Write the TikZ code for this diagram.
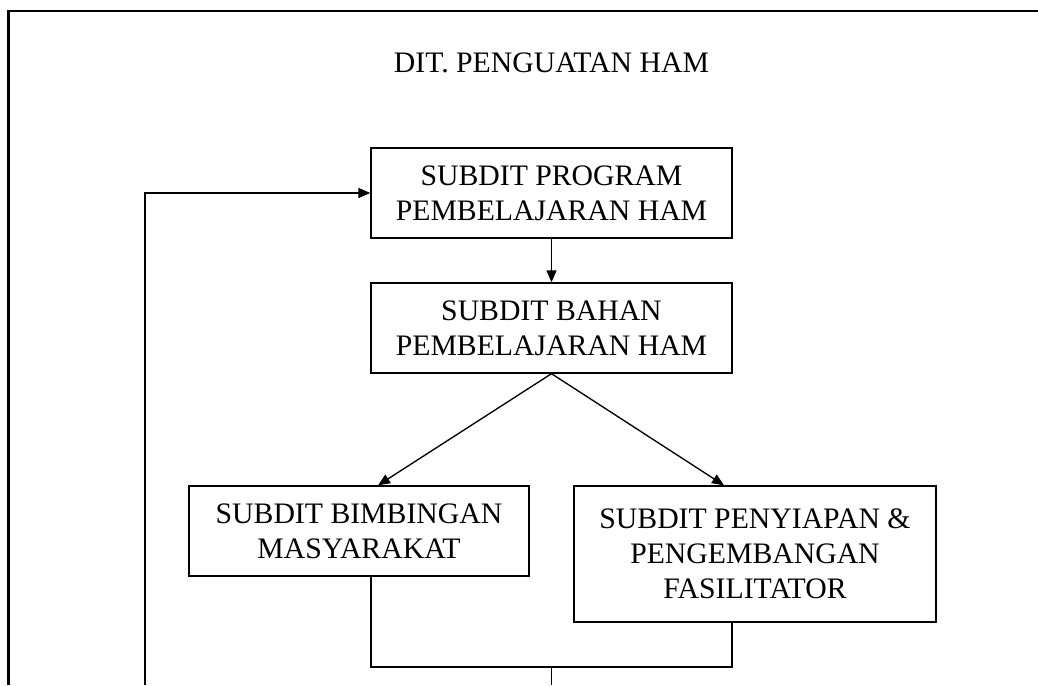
\documentclass[tikz,border=0pt]{standalone}
\usepackage{fontspec}
\setmainfont{Liberation Serif}
\usetikzlibrary{arrows.meta,positioning}
\tikzset{%
    >={Triangle[length=9pt,width=7.5pt]},
    unit/.style={draw,line width=1pt,align=center,inner sep=0pt,
        font=\fontsize{22.3}{26.2}\selectfont},
    line/.style={line width=1pt},
    frame/.style={line width=1.8pt}
}

\begin{document}
\begin{tikzpicture}[x=0.75pt,y=-0.75pt]
            \useasboundingbox (0,0) rectangle (1038,685);
            \draw [frame] (8.5,685) -- (8.5,11) -- (1038,11);
            \node [font=\fontsize{22.3}{26.2}\selectfont] (dit) at (551.5,63) {DIT. PENGUATAN HAM};
            \node [unit,minimum width=270.75pt,minimum height=67.5pt] (prog) at (551.5,193) {SUBDIT PROGRAM\\PEMBELAJARAN HAM};
            \node [unit,minimum width=270.75pt,minimum height=67.5pt] (bahan) at (551.5,328) {SUBDIT BAHAN\\PEMBELAJARAN HAM};
            \node [unit,minimum width=255pt,minimum height=67.5pt] (bimb) at (359,531) {SUBDIT BIMBINGAN\\MASYARAKAT};
            \node [unit,minimum width=271.5pt,minimum height=102pt] (fasil) at (755,554) {SUBDIT PENYIAPAN \&\\PENGEMBANGAN\\FASILITATOR};
            %%%%%
            \coordinate (join) at (551.5,667);
            \coordinate (out) at (551.5,685);
            \coordinate (back) at (145,685);
            \draw [line,->] (prog) -- (bahan);
            \draw [line,->] (bahan.south) -- ([xshift=14.25pt]bimb.north);
            \draw [line,->] (bahan.south) -- ([xshift=-23.25pt]fasil.north);
            \draw [line] ([xshift=9pt]bimb.south) |- (join) -| ([xshift=-17.25pt]fasil.south);
            \draw [line] (join) -- (out);
            \draw [line,->] (back) |- (prog.west);
            \end{tikzpicture}
\end{document}
